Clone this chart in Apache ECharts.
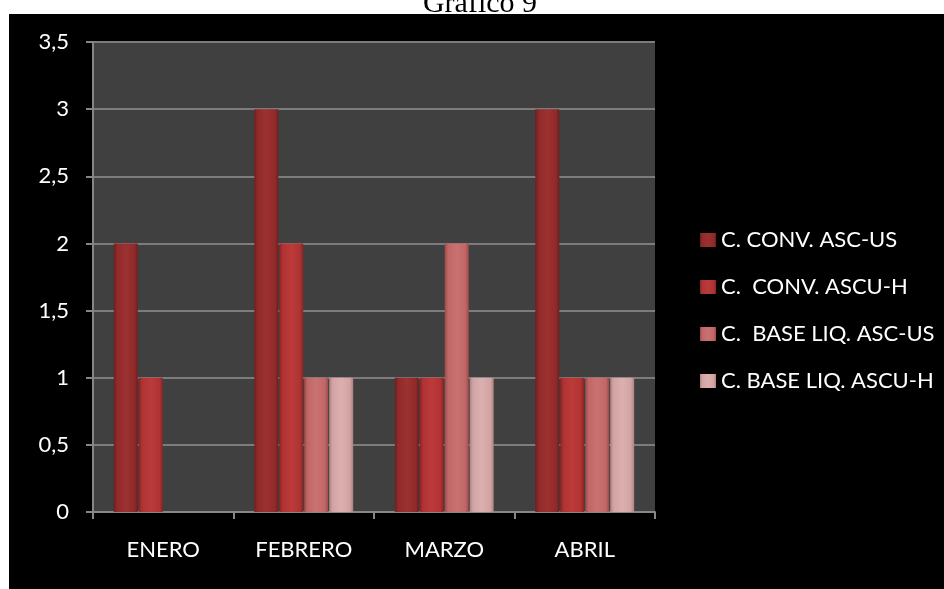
<!DOCTYPE html>
<html>
<head>
<meta charset="utf-8">
<script src="https://cdn.jsdelivr.net/npm/echarts@6/dist/echarts.min.js"></script>
<style>
  html, body { margin: 0; padding: 0; background: #ffffff; }
  #chart { width: 944px; height: 589px; }
</style>
</head>
<body>
<div id="chart"></div>
<script>
// Monthly counts per test type
const months = ['ENERO', 'FEBRERO', 'MARZO', 'ABRIL'];
const seriesNames = ['C. CONV. ASC-US', 'C.  CONV. ASCU-H', 'C.  BASE LIQ. ASC-US', 'C. BASE LIQ. ASCU-H'];
const convAscUs = [2, 3, 1, 3];
const convAscuH = [1, 2, 1, 1];
const liqAscUs = [0, 1, 2, 1];
const liqAscuH = [0, 1, 1, 1];
const yTickLabels = ['0', '0,5', '1', '1,5', '2', '2,5', '3', '3,5'];

// Base / edge shades for each series (bevelled bar look)
const shades = [
  { edge: '#6e1f1f', mid: '#912a2a', hi: '#9c3131' },
  { edge: '#852525', mid: '#b03333', hi: '#bb3a3a' },
  { edge: '#9a4c4c', mid: '#c26666', hi: '#c97272' },
  { edge: '#ad8282', mid: '#d3a3a3', hi: '#dcb0b0' }
];

function bevel(s) {
  return new echarts.graphic.LinearGradient(0, 0, 1, 0, [
    { offset: 0, color: s.edge },
    { offset: 0.14, color: s.mid },
    { offset: 0.5, color: s.hi },
    { offset: 0.86, color: s.mid },
    { offset: 1, color: s.edge }
  ]);
}

const valueSets = [convAscUs, convAscuH, liqAscUs, liqAscuH];
const font = 'Lato';

const chart = echarts.init(document.getElementById('chart'), null, { renderer: 'canvas' });
chart.setOption({
  backgroundColor: 'transparent',
  animation: false,
  graphic: [
    { type: 'rect', z: -100, shape: { x: 9, y: 14, width: 935, height: 575 }, style: { fill: '#000000' } },
    { type: 'text', z: -90, style: { text: 'Gráfico 9', x: 480, y: 19, align: 'center', verticalAlign: 'bottom',
        font: '30px "Liberation Serif"', fill: '#000000' } }
  ],
  grid: {
    left: 93, right: 289, top: 42, bottom: 77,
    show: true, backgroundColor: '#404040', borderWidth: 0
  },
  legend: {
    orient: 'vertical',
    left: 695, top: 224,
    itemWidth: 16, itemHeight: 14, itemGap: 25,
    icon: 'rect',
    data: seriesNames,
    textStyle: { color: '#ffffff', fontFamily: font, fontSize: 22, lineHeight: 22 }
  },
  xAxis: {
    type: 'category',
    data: months,
    axisLine: { lineStyle: { color: '#868686', width: 2 } },
    axisTick: { show: true, length: 7, lineStyle: { color: '#868686', width: 2 } },
    axisLabel: { color: '#ffffff', fontFamily: font, fontSize: 22, margin: 27 }
  },
  yAxis: {
    type: 'value',
    min: 0, max: 3.5, interval: 0.5,
    axisLine: { show: true, lineStyle: { color: '#868686', width: 2 } },
    axisTick: { show: true, length: 7, lineStyle: { color: '#868686', width: 2 } },
    splitLine: { lineStyle: { color: '#7c7c7c', width: 2 } },
    axisLabel: {
      color: '#ffffff', fontFamily: font, fontSize: 22, margin: 24,
      formatter: (v) => yTickLabels[Math.round(v / 0.5)]
    }
  },
  series: seriesNames.map((name, i) => ({
    name: name,
    type: 'bar',
    data: valueSets[i],
    barWidth: 24,
    barGap: '4%',
    itemStyle: { color: bevel(shades[i]), borderWidth: 0 }
  }))
});
</script>
</body>
</html>
